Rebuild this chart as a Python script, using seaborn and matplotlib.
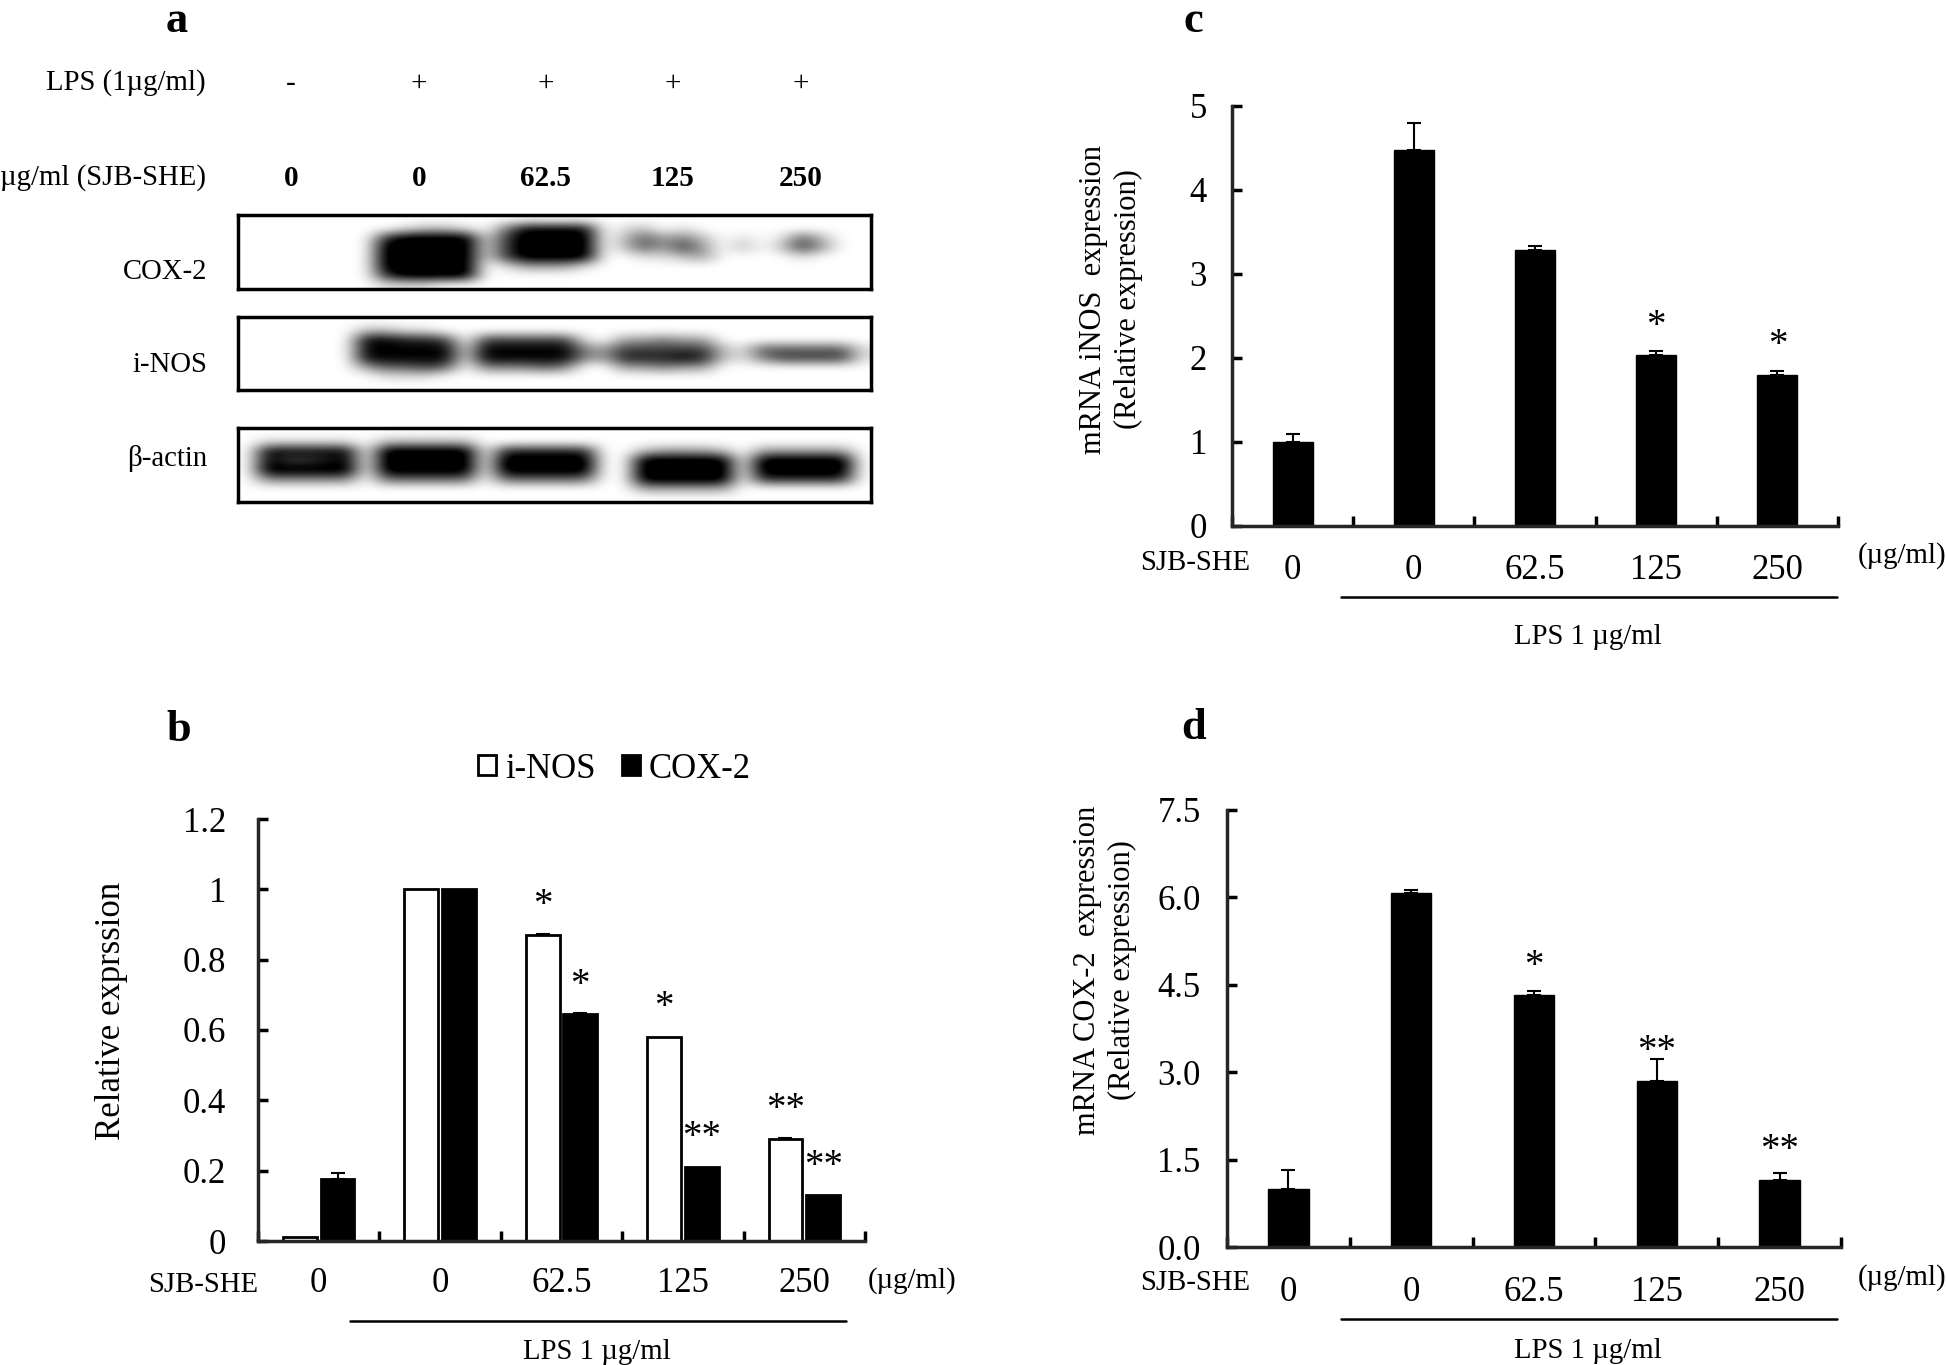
import numpy as np
import pandas as pd
import matplotlib
matplotlib.use("Agg")
import matplotlib.pyplot as plt
from matplotlib.lines import Line2D
import seaborn as sns

W, H = 1946, 1365

# bar data, panels b, c, d
groups = [0, 1, 2, 3, 4]
dose_labels = ["0", "0", "62.5", "125", "250"]

b_inos = [0.01, 1.0, 0.87, 0.58, 0.29]
b_inos_err = [0.0, 0.0, 0.003, 0.0, 0.003]
b_inos_stars = ["", "", "*", "*", "**"]
b_cox2 = [0.175, 1.0, 0.645, 0.21, 0.13]
b_cox2_err = [0.018, 0.0, 0.003, 0.0, 0.0]
b_cox2_stars = ["", "", "*", "**", "**"]
b_ticks = [0, 0.2, 0.4, 0.6, 0.8, 1.0, 1.2]
b_ticklabels = ["0", "0.2", "0.4", "0.6", "0.8", "1", "1.2"]

c_vals = [1.0, 4.48, 3.28, 2.03, 1.80]
c_err = [0.10, 0.32, 0.05, 0.05, 0.05]
c_stars = ["", "", "", "*", "*"]
c_ticks = [0, 1, 2, 3, 4, 5]
c_ticklabels = ["0", "1", "2", "3", "4", "5"]

d_vals = [1.0, 6.07, 4.32, 2.85, 1.15]
d_err = [0.33, 0.06, 0.08, 0.38, 0.12]
d_stars = ["", "", "*", "**", "**"]
d_ticks = [0, 1.5, 3.0, 4.5, 6.0, 7.5]
d_ticklabels = ["0.0", "1.5", "3.0", "4.5", "6.0", "7.5"]

lps_signs = ["-", "+", "+", "+", "+"]
she_doses = ["0", "0", "62.5", "125", "250"]

cox2_blot = [
    "00000000000000000000000000000000",
    "00000000122104888801201000000000",
    "00000007999916999902534201015200",
    "00000009999916999902536302026300",
    "00000009999916999900112300001000",
    "00000009999901333100000000000000",
    "00000007999900000000000000000000",
    "00000001110000000000000000000000",
]
inos_blot = [
    "00000000000000000000000000000000",
    "00000022110000000000000000000000",
    "00000088776066666103343300000000",
    "00000088888188888436666621555551",
    "00000088888188888437778721466661",
    "00000035565044454003343300000000",
    "00000001110000000000000000000000",
    "00000000000000000000000000000000",
]
actin_blot = [
    "00000000000000000000000000000000",
    "01111102222200000000000000000000",
    "08888809999907777700233320333330",
    "08667809999909999900999990999990",
    "09999909999909999900999990999990",
    "04444405555505555500999990777770",
    "00000000000000000000333330000000",
    "00000000000000000000000000000000",
]

sns.set_theme(style="white")
plt.rcParams["font.family"] = ["Liberation Serif", "DejaVu Serif"]
plt.rcParams["text.color"] = "black"
plt.rcParams["axes.labelcolor"] = "black"
plt.rcParams["xtick.color"] = "black"
plt.rcParams["ytick.color"] = "black"

fig = plt.figure(figsize=(W / 100, H / 100), dpi=100, facecolor="white")


def add_ax(x0, y0, x1, y1):
    # pixel box, y measured from the top of the image
    return fig.add_axes([x0 / W, 1 - y1 / H, (x1 - x0) / W, (y1 - y0) / H])


def put(x, y, s, size=20, **kw):
    kw.setdefault("ha", "center")
    kw.setdefault("va", "center")
    fig.text(x / W, 1 - y / H, s, fontsize=size, **kw)


def style_axis(ax, ticks, ticklabels, top, ypad, xpad):
    ax.set_xlim(-0.5, 4.5)
    ax.set_ylim(0, top)
    ax.set_xlabel("")
    ax.set_ylabel("")
    sns.despine(ax=ax)
    ax.spines["left"].set_linewidth(2.5)
    ax.spines["bottom"].set_linewidth(2.5)
    ax.set_yticks(ticks)
    ax.set_yticklabels(ticklabels, fontsize=25)
    ax.tick_params(axis="y", direction="in", length=7, width=2.5, pad=ypad, left=True)
    ax.set_xticks(np.arange(-0.5, 5, 1))
    ax.set_xticklabels([])
    ax.tick_params(axis="x", which="major", direction="in", length=7, width=2.5, bottom=True)
    ax.set_xticks(groups, minor=True)
    ax.set_xticklabels(dose_labels, minor=True, fontsize=25)
    ax.tick_params(axis="x", which="minor", length=0, pad=xpad)


def add_errors_stars(ax, bars, errs, stars):
    for bar, err, star in zip(bars, errs, stars):
        xc = bar.get_x() + bar.get_width() / 2
        top = bar.get_height()
        if err > 0:
            ax.errorbar(xc, top, yerr=[[0], [err]], color="black", capsize=5,
                        elinewidth=1.5, capthick=1.5)
        if star:
            ax.annotate(star, (xc, top), xytext=(0, 21), textcoords="offset points",
                        ha="center", va="center", fontsize=28, clip_on=False)


def x_notes(x_sjb, y_sjb, x_unit, y_unit, x0, x1, y_line, x_lps, y_lps):
    put(x_sjb, y_sjb, "SJB-SHE", 20.7)
    put(x_unit, y_unit, "(µg/ml)", 20.7)
    fig.add_artist(Line2D([x0 / W, x1 / W], [1 - y_line / H] * 2, color="black", lw=1.8))
    put(x_lps, y_lps, "LPS 1 µg/ml", 20.7)


# panel a
put(177, 21, "a", 32, fontweight="bold")
lanes_x = [291, 419, 545.5, 673, 801]
put(206, 83, "LPS (1µg/ml)", 20.7, ha="right")
put(206, 178, "µg/ml (SJB-SHE)", 20.7, ha="right")
for lx, sign, dose in zip(lanes_x, lps_signs, she_doses):
    put(lx, 84, sign, 21)
    put(lx, 178, dose, 21, fontweight="bold")

blots = [("COX-2", cox2_blot, 215, 289, 272), ("i-NOS", inos_blot, 317, 390, 365),
         ("β-actin", actin_blot, 428, 502, 459)]
for name, rows, y0, y1, y_label in blots:
    ax = add_ax(238, y0, 871, y1)
    grid = np.array([[int(c) for c in row] for row in rows], dtype=float)
    ax.imshow(grid, cmap="gray_r", vmin=0, vmax=8, aspect="auto", interpolation="bicubic")
    ax.set_xticks([])
    ax.set_yticks([])
    ax.grid(False)
    for sp in ax.spines.values():
        sp.set_visible(True)
        sp.set_color("black")
        sp.set_linewidth(2.5)
    put(207, y_label, name, 20.7, ha="right")

# panel b
put(179, 730, "b", 32, fontweight="bold")
ax_b = add_ax(258, 819, 865, 1241)
df_b = pd.DataFrame({
    "group": groups * 2,
    "value": b_inos + b_cox2,
    "series": ["i-NOS"] * 5 + ["COX-2"] * 5,
})
sns.barplot(data=df_b, x="group", y="value", hue="series", ax=ax_b, errorbar=None,
            palette={"i-NOS": "white", "COX-2": "black"}, edgecolor="black", linewidth=2,
            width=0.62, gap=0.1, saturation=1)
add_errors_stars(ax_b, ax_b.containers[0], b_inos_err, b_inos_stars)
add_errors_stars(ax_b, ax_b.containers[1], b_cox2_err, b_cox2_stars)
style_axis(ax_b, b_ticks, b_ticklabels, 1.2, 23, 19)
handles, labels = ax_b.get_legend_handles_labels()
ax_b.legend(handles, labels, ncol=2, frameon=False, loc="center left",
            bbox_to_anchor=(478 / W, 1 - 769 / H), bbox_transform=fig.transFigure,
            fontsize=25, handlelength=0.52, handleheight=0.52, handletextpad=0.26,
            columnspacing=0.75, borderpad=0, borderaxespad=0)
put(112, 1011, "Relative exprssion", 25, rotation=90)
x_notes(203, 1285, 912, 1281, 350, 846, 1321, 597, 1352)

# panel c
put(1193, 21, "c", 32, fontweight="bold")
ax_c = add_ax(1232, 106, 1838, 526)
df_c = pd.DataFrame({"group": groups, "value": c_vals})
sns.barplot(data=df_c, x="group", y="value", ax=ax_c, errorbar=None, color="black",
            edgecolor="black", width=0.33, saturation=1)
add_errors_stars(ax_c, ax_c.containers[0], c_err, c_stars)
style_axis(ax_c, c_ticks, c_ticklabels, 5, 18, 20)
put(1094, 299, "mRNA iNOS  expression", 22, rotation=90)
put(1128, 299, "(Relative expression)", 22, rotation=90)
x_notes(1195, 563, 1902, 556, 1341, 1837, 596.5, 1588, 637)

# panel d
put(1194, 728, "d", 32, fontweight="bold")
ax_d = add_ax(1227, 810, 1841, 1247)
df_d = pd.DataFrame({"group": groups, "value": d_vals})
sns.barplot(data=df_d, x="group", y="value", ax=ax_d, errorbar=None, color="black",
            edgecolor="black", width=0.33, saturation=1)
add_errors_stars(ax_d, ax_d.containers[0], d_err, d_stars)
style_axis(ax_d, d_ticks, d_ticklabels, 7.5, 19, 21)
put(1087, 970, "mRNA COX-2  expression", 22, rotation=90)
put(1122, 970, "(Relative expression)", 22, rotation=90)
x_notes(1195, 1283, 1902, 1278, 1341, 1837, 1319, 1588, 1351)

fig.savefig("out.png", dpi=100, facecolor="white")
